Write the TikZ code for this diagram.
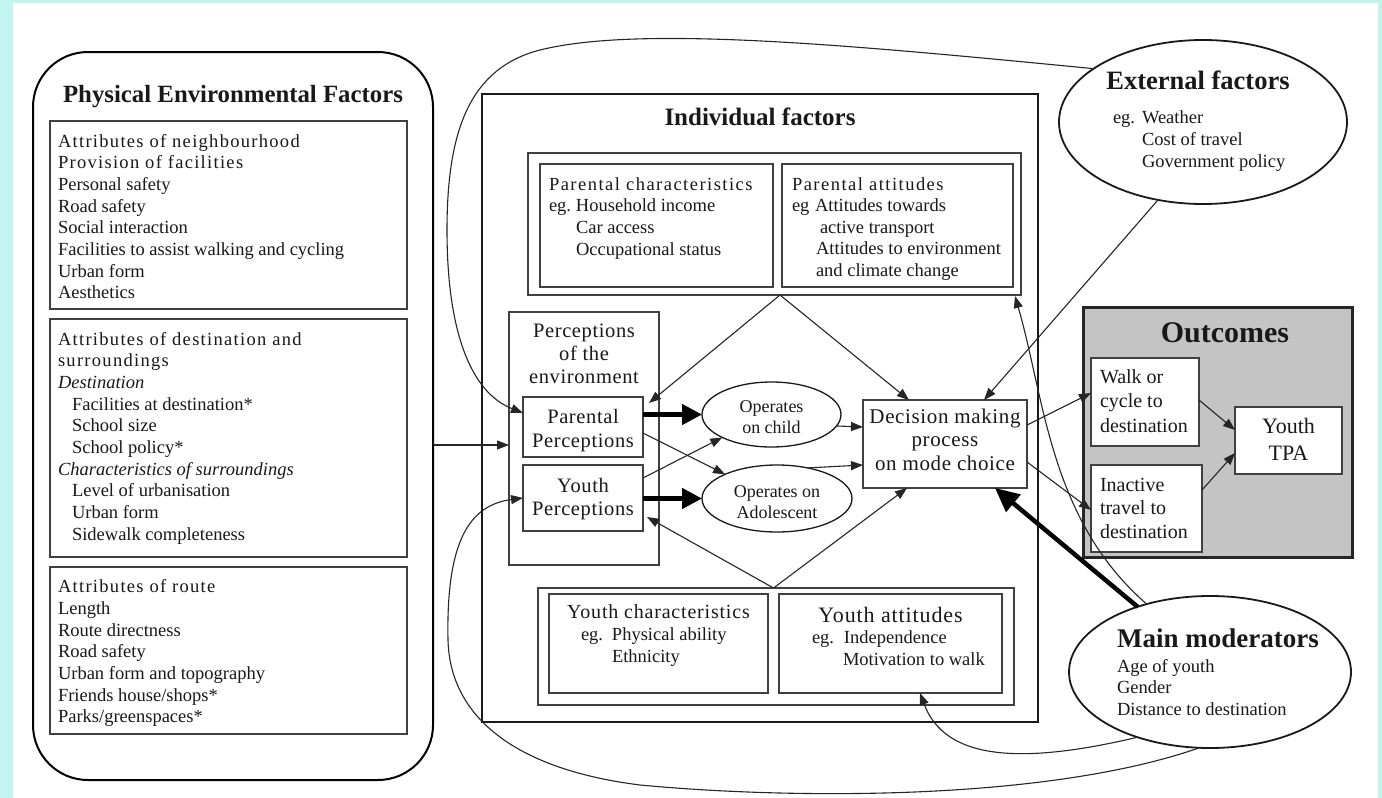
\documentclass[tikz,border=0pt]{standalone}
\usepackage{fontspec}
\setmainfont{Liberation Serif}
\usetikzlibrary{arrows.meta,shapes.geometric,calc}
\definecolor{bgcyan}{RGB}{194,245,239}
\definecolor{outgray}{RGB}{196,196,196}
\newcommand{\myfs}[2]{\fontsize{#1}{#2}\selectfont}
\newcommand{\ls}{\addfontfeature{LetterSpace=7}}
\newcommand{\blk}[1]{\begin{tabular}[t]{@{}l@{}}#1\end{tabular}}
\newcommand{\blkc}[1]{\begin{tabular}[t]{@{}c@{}}#1\end{tabular}}
\tikzset{
  rbox/.style={draw=black!75, line width=1.3pt, inner sep=0pt, outer sep=0pt},
  bigbox/.style={draw=black!90, line width=2.2pt, inner sep=0pt, outer sep=0pt},
  ell/.style={ellipse, draw=black!90, line width=1.8pt, inner sep=0pt, outer sep=0pt},
  tx/.style={inner sep=0pt, outer sep=0pt, text=black!90},
  body/.style={tx, font=\myfs{18.5}{21.7}},
  ln/.style={line width=1.1pt, draw=black!85},
  arr/.style={ln, -{Triangle[length=12pt,width=9pt]}},
  thickarr/.style={line width=4.5pt, draw=black, -{Triangle[length=20pt,width=20pt]}},
}
\begin{document}
\begin{tikzpicture}[x=1pt,y=-1pt]
\fill[bgcyan] (0,0) rectangle (1382,798);
\fill[white] (13,3) rectangle (1378,798);
\useasboundingbox (0,0) rectangle (1382,798);

% ---------- Left panel ----------
\node[draw=black, line width=2pt, rounded corners=55pt, minimum width=400pt, minimum height=728pt, inner sep=0pt, outer sep=0pt] (lp) at (233,416) {};
\node[rbox, minimum width=357pt, minimum height=188pt] (b1) at (228.5,215) {};
\node[rbox, minimum width=357pt, minimum height=238pt] (b2) at (228.5,438) {};
\node[rbox, minimum width=357pt, minimum height=167pt] (b3) at (228.5,650.5) {};
\node[tx, anchor=base, font=\bfseries\myfs{24.8}{30}] (lpt) at (233,102) {Physical Environmental Factors};
\node[body, anchor=base west] (b1t) at (58,147) {\blk{{\ls Attributes of neighbourhood}\\{\ls Provision of facilities}\\Personal safety\\Road safety\\Social interaction\\Facilities to assist walking and cycling\\Urban form\\Aesthetics}};
\node[body, anchor=base west] (b2t) at (58,345) {\blk{{\ls Attributes of destination and}\\{\ls surroundings}\\\textit{Destination}\\\hspace{14pt}Facilities at destination*\\\hspace{14pt}School size\\\hspace{14pt}School policy*\\\textit{Characteristics of surroundings}\\\hspace{14pt}Level of urbanisation\\\hspace{14pt}Urban form\\\hspace{14pt}Sidewalk completeness}};
\node[body, anchor=base west] (b3t) at (58,592.7) {\blk{{\ls Attributes of route}\\Length\\Route directness\\Road safety\\Urban form and topography\\Friends house/shops*\\Parks/greenspaces*}};

% ---------- Individual factors ----------
\node[bigbox, minimum width=556pt, minimum height=628pt] (ind) at (760,408) {};
\node[tx, anchor=base, font=\bfseries\myfs{25}{30}] (indt) at (760,125) {Individual factors};
\node[rbox, minimum width=493pt, minimum height=142pt] (pg) at (774.5,224) {};
\node[rbox, minimum width=233pt, minimum height=123pt] (pc) at (656.5,225.5) {};
\node[rbox, minimum width=231pt, minimum height=123pt] (pa) at (897.5,225.5) {};
\node[body, anchor=base west] (pct) at (549,190) {\blk{{\addfontfeature{LetterSpace=8}Parental characteristics}\\\makebox[27pt][l]{eg.}Household income\\\hspace{27pt}Car access\\\hspace{27pt}Occupational status}};
\node[tx, font=\myfs{18.5}{21.5}, anchor=base west] (pat) at (792,190) {\blk{{\addfontfeature{LetterSpace=8}Parental attitudes}\\\makebox[23pt][l]{eg}Attitudes towards\\\hspace{28pt}active transport\\\hspace{24pt}Attitudes to environment\\\hspace{24pt}and climate change}};

\node[rbox, minimum width=150pt, minimum height=253pt] (perc) at (584,438.5) {};
\node[tx, font=\myfs{20.5}{23}, anchor=base] (perct) at (584,337) {\blkc{{\addfontfeature{LetterSpace=3}Perceptions}\\{\addfontfeature{LetterSpace=3}of the}\\{\addfontfeature{LetterSpace=3}environment}}};
\node[rbox, line width=1.6pt, minimum width=120pt, minimum height=60pt] (pp) at (583,427) {};
\node[tx, font=\myfs{20.5}{24}, anchor=base] (ppt) at (583,423) {\blkc{{\addfontfeature{LetterSpace=3}Parental}\\{\addfontfeature{LetterSpace=3}Perceptions}}};
\node[rbox, line width=1.6pt, minimum width=120pt, minimum height=66pt] (yp) at (583,498) {};
\node[tx, font=\myfs{20.5}{23.5}, anchor=base] (ypt) at (583,492) {\blkc{{\addfontfeature{LetterSpace=3}Youth}\\{\addfontfeature{LetterSpace=3}Perceptions}}};

\node[ell, line width=1.3pt, minimum width=139pt, minimum height=65pt] (ch) at (771.5,414.5) {};
\node[tx, font=\myfs{18}{21}, anchor=base] (cht) at (771.5,412) {\blkc{Operates\\on child}};
\node[ell, line width=1.3pt, minimum width=150pt, minimum height=67pt] (ad) at (777,498.5) {};
\node[tx, font=\myfs{18}{21}, anchor=base] (adt) at (777,497) {\blkc{Operates on\\Adolescent}};

\node[rbox, minimum width=164pt, minimum height=88pt] (dm) at (945,444) {};
\node[tx, font=\myfs{21}{23.7}, anchor=base] (dmt) at (945,423) {\blkc{{\addfontfeature{LetterSpace=3}Decision making}\\{\addfontfeature{LetterSpace=3}process}\\{\addfontfeature{LetterSpace=3}on mode choice}}};

\node[rbox, minimum width=476pt, minimum height=117pt] (yg) at (776,646.5) {};
\node[rbox, minimum width=219pt, minimum height=99pt] (yc) at (658.5,643.5) {};
\node[rbox, minimum width=223pt, minimum height=99pt] (ya) at (890.5,643.5) {};
\node[tx, font=\myfs{20}{24}, anchor=base] (yct) at (658.5,618) {\addfontfeature{LetterSpace=4}Youth characteristics};
\node[tx, font=\myfs{18.5}{22}, anchor=base west] (ycb) at (581,640) {\blk{\makebox[31pt][l]{eg.}Physical ability\\\hspace{31pt}Ethnicity}};
\node[tx, font=\myfs{22}{26}, anchor=base] (yat) at (890.5,622) {\addfontfeature{LetterSpace=4}Youth attitudes};
\node[tx, font=\myfs{18.5}{22}, anchor=base west] (yab) at (812,643) {\blk{\makebox[32pt][l]{eg.}Independence\\\hspace{31pt}Motivation to walk}};

% ---------- External factors ----------
\node[ell, minimum width=288pt, minimum height=164pt] (ext) at (1203,122) {};
\node[tx, anchor=base, font=\bfseries\myfs{26.5}{30}] (extt) at (1198,89) {External factors};
\node[tx, font=\myfs{18.5}{22}, anchor=base west] (extb) at (1113,123) {\blk{\makebox[29pt][l]{eg.}Weather\\\hspace{29pt}Cost of travel\\\hspace{29pt}Government policy}};

% ---------- Outcomes ----------
\node[draw=black!85, line width=3pt, fill=outgray, minimum width=269pt, minimum height=250pt, inner sep=0pt, outer sep=0pt] (out) at (1217.5,432) {};
\node[tx, anchor=base, font=\bfseries\myfs{30}{34}] (outt) at (1225,342) {Outcomes};
\node[rbox, fill=white, line width=1.6pt, minimum width=108pt, minimum height=88pt] (wk) at (1145,402) {};
\node[tx, font=\myfs{20}{24.5}, anchor=base west] (wkt) at (1100,383) {\blk{Walk or\\cycle to\\destination}};
\node[rbox, fill=white, line width=1.6pt, minimum width=111pt, minimum height=87pt] (ina) at (1146.5,508.5) {};
\node[tx, font=\myfs{20}{23.5}, anchor=base west] (inat) at (1100,491) {\blk{Inactive\\travel to\\destination}};
\node[rbox, fill=white, line width=1.6pt, minimum width=107pt, minimum height=67pt] (tpa) at (1288.5,440.5) {};
\node[tx, font=\myfs{22}{27}, anchor=base] (tpat) at (1288.5,433) {\blkc{Youth\\TPA}};

% ---------- Main moderators ----------
\node[ell, minimum width=282pt, minimum height=152pt] (mm) at (1210,672) {};
\node[tx, anchor=base, font=\bfseries\myfs{27}{31}] (mmt) at (1218,647) {Main moderators};
\node[tx, font=\myfs{18.5}{21.5}, anchor=base west] (mmb) at (1117,672) {\blk{Age of youth\\Gender\\Distance to destination}};

% ---------- Connectors ----------
\draw[arr] ([yshift=-29pt]lp.east) -- ([yshift=-6.5pt]perc.west);
\draw[arr] (ext.154) .. controls (850,45) and (640,25) .. (540,50)
   .. controls (470,68) and (447,130) .. (447,230)
   .. controls (447,330) and (470,392) .. ([yshift=14pt]pp.west);
\draw[arr] (ext.-120) -- ([xshift=39pt]dm.north);

\draw[thickarr] (pp.east |- ch.west) -- (ch.west);
\draw[thickarr] (yp.east |- ad.west) -- (ad.west);
\draw[arr] ([yshift=-6pt]pp.east) -- (ad.155);
\draw[arr] ([yshift=20pt]yp.east) -- (ch.205);
\draw[arr] (ch.-10) -- ([yshift=17pt]dm.west);
\draw[arr] (ad.45) -- ([yshift=-21pt]dm.west);

\draw[arr] ([xshift=5.5pt]pg.south) -- ([xshift=6pt,yshift=-6pt]pp.north east);
\draw[arr] ([xshift=5.5pt]pg.south) -- ([xshift=-36pt]dm.north);
\draw[arr] ([xshift=-2.5pt]yg.north) -- ([xshift=4pt,yshift=14pt]yp.south east);
\draw[arr] ([xshift=-2.5pt]yg.north) -- ([xshift=-38pt]dm.south);

\draw[arr] ([yshift=19pt]dm.east) -- ([yshift=9pt]wk.west);
\draw[arr] ([yshift=-18pt]dm.east) -- ([yshift=-1.5pt]ina.west);
\draw[arr] ([yshift=2pt]wk.east) -- ([yshift=10.5pt]tpa.west);
\draw[arr] ([yshift=18.5pt]ina.east) -- ([yshift=-12.5pt]tpa.west);

\draw[line width=4.5pt, -{Triangle[length=24pt,width=22pt]}] (mm.138) -- ([xshift=50pt]dm.south);
\draw[arr] (mm.133) .. controls (1050,520) and (1045,400) .. ([xshift=-6pt,yshift=-1pt]pg.south east);
\draw[arr] (mm.-138) .. controls (1020,765) and (945,760) .. ([xshift=29.5pt]ya.south);
\draw[arr] (mm.-98) .. controls (1050,800) and (800,800) .. (640,785)
   .. controls (520,770) and (450,720) .. (448,640)
   .. controls (446,540) and (470,505) .. (yp.west);
\end{tikzpicture}
\end{document}
